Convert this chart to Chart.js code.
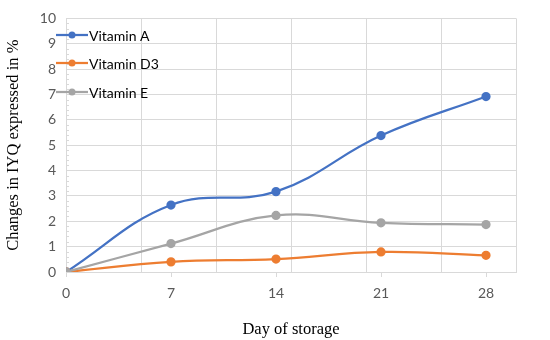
<!DOCTYPE html>
<html>
<head>
<meta charset="utf-8">
<script src="https://cdn.jsdelivr.net/npm/chart.js@4"></script>
<style>
  html, body { margin: 0; padding: 0; background: #fff; }
  #wrap { width: 550px; height: 340px; }
</style>
</head>
<body>
<div id="wrap"><canvas id="ivChart" width="550" height="340"></canvas></div>
<script>
// Données
const days = [0, 7, 14, 21, 28];
const dayTicks = [0, 7, 14, 21, 28];
const vitaminA = [0, 2.64, 3.17, 5.38, 6.92];
const vitaminD3 = [0, 0.40, 0.51, 0.79, 0.66];
const vitaminE = [0, 1.12, 2.23, 1.94, 1.87];
const seriesNames = ['Vitamin A', 'Vitamin D3', 'Vitamin E'];
const seriesColors = ['#4472C4', '#ED7D31', '#A5A5A5'];
const yTitle = 'Changes in IYQ expressed in %';
const xTitle = 'Day of storage';

const toPoints = (vals) => vals.map((v, i) => ({ x: days[i], y: v }));
const allSeries = [vitaminA, vitaminD3, vitaminE];

const sansFont = 'Lato, "Open Sans", sans-serif';
const serifFont = '"Liberation Serif", "DejaVu Serif", serif';

// Petites graduations secondaires sur l'axe Y
const minorTicks = {
  id: 'minorTicks',
  beforeDatasetsDraw(chart) {
    const ctx = chart.ctx;
    const y = chart.scales.y;
    const left = chart.chartArea.left;
    ctx.save();
    ctx.strokeStyle = '#D9D9D9';
    ctx.lineWidth = 1;
    for (let i = 0; i <= 50; i++) {
      if (i % 5 === 0) continue;
      const py = Math.round(y.getPixelForValue(i / 5)) + 0.5;
      ctx.beginPath();
      ctx.moveTo(left, py);
      ctx.lineTo(left + 3, py);
      ctx.stroke();
    }
    ctx.restore();
  }
};

// Légende dessinée dans la zone du graphique (style Excel)
const insideLegend = {
  id: 'insideLegend',
  afterDatasetsDraw(chart) {
    const ctx = chart.ctx;
    const x0 = chart.chartArea.left - 10;
    const rows = [35, 63, 92];
    ctx.save();
    chart.data.datasets.forEach((ds, i) => {
      const y = rows[i];
      ctx.strokeStyle = ds.borderColor;
      ctx.lineWidth = 2.25;
      ctx.beginPath();
      ctx.moveTo(x0, y);
      ctx.lineTo(x0 + 32, y);
      ctx.stroke();
      ctx.fillStyle = ds.borderColor;
      ctx.beginPath();
      ctx.arc(x0 + 16, y, 3.5, 0, Math.PI * 2);
      ctx.fill();
      ctx.fillStyle = '#000';
      ctx.font = '14px ' + sansFont;
      ctx.textBaseline = 'middle';
      ctx.textAlign = 'left';
      ctx.fillText(ds.label, x0 + 33, y + 1);
    });
    ctx.restore();
  }
};

new Chart(document.getElementById('ivChart').getContext('2d'), {
  type: 'line',
  data: {
    datasets: allSeries.map((vals, i) => ({
      label: seriesNames[i],
      data: toPoints(vals),
      borderColor: seriesColors[i],
      backgroundColor: seriesColors[i],
      borderWidth: 2.25,
      pointRadius: 3.5,
      pointHoverRadius: 3.5,
      tension: 0.4,
      xAxisID: 'x',
      order: 2 - i,
    })),
  },
  options: {
    responsive: false,
    animation: false,
    layout: { padding: { top: 14, right: 34, left: 0, bottom: 0 } },
    plugins: {
      legend: { display: false },
      tooltip: { enabled: false },
    },
    scales: {
      x: {
        type: 'linear',
        position: 'bottom',
        min: 0,
        max: 30,
        afterBuildTicks: (scale) => {
          scale.ticks = dayTicks.map((v) => ({ value: v }));
        },
        afterFit: (scale) => { scale.height = 68; },
        ticks: {
          color: '#595959',
          font: { family: sansFont, size: 14 },
          padding: 8,
          maxRotation: 0,
        },
        grid: {
          display: true,
          drawOnChartArea: false,
          drawTicks: true,
          tickLength: 5,
          color: '#D9D9D9',
          lineWidth: 1,
        },
        border: { display: true, color: '#D9D9D9' },
        title: {
          display: true,
          text: xTitle,
          color: '#000',
          font: { family: serifFont, size: 16.5 },
          padding: { top: 11, bottom: 0 },
        },
      },
      xGrid: {
        type: 'linear',
        position: 'bottom',
        min: 0,
        max: 30,
        ticks: { stepSize: 5, display: false },
        afterFit: (scale) => { scale.height = 0; },
        grid: { color: '#D9D9D9', lineWidth: 1, drawTicks: false },
        border: { display: false },
      },
      y: {
        min: 0,
        max: 10,
        afterFit: (scale) => { scale.width = 66; },
        ticks: {
          stepSize: 1,
          color: '#595959',
          font: { family: sansFont, size: 14 },
          padding: 10,
        },
        grid: { color: '#D9D9D9', lineWidth: 1, drawTicks: false },
        border: { display: true, color: '#D9D9D9' },
        title: {
          display: true,
          text: yTitle,
          color: '#000',
          font: { family: serifFont, size: 16.5 },
          padding: { top: 4, bottom: 0 },
        },
      },
    },
  },
  plugins: [minorTicks, insideLegend],
});
</script>
</body>
</html>
